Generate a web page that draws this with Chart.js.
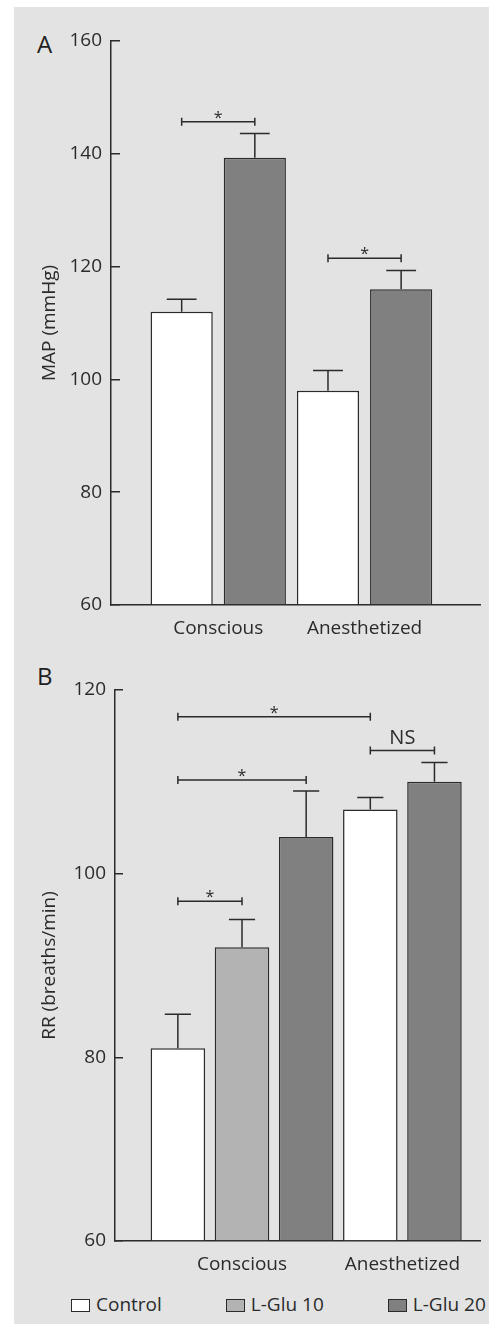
<!DOCTYPE html>
<html>
<head>
<meta charset="utf-8">
<script src="https://cdn.jsdelivr.net/npm/chart.js@4.4.0/dist/chart.umd.min.js"></script>
<style>
  html, body { margin: 0; padding: 0; background: #fff; overflow: hidden; }
  body { width: 489px; height: 1325px; position: relative; font-family: "Open Sans", sans-serif; }
  #panel { position: absolute; left: 14px; top: 7px; width: 475px; height: 1317px; background: #e3e3e3; overflow: hidden; }
  .box { position: absolute; left: 14px; width: 475px; }
  #boxA { top: 0; height: 650px; }
  #boxB { top: 650px; height: 636px; }
  .tag { position: absolute; left: 37px; font-size: 24px; color: #1e1e1e; line-height: 1; }
  #legend { position: absolute; left: 71px; top: 1292px; display: flex; gap: 64px; white-space: nowrap;
            font-size: 19px; color: #2b2b2b; line-height: 24px; }
  #legend span.sw { display: inline-block; width: 17px; height: 11px; border: 1.2px solid #2b2b2b;
                    margin-right: 6px; vertical-align: -1px; }
</style>
</head>
<body>
<div id="panel"></div>
<div class="tag" style="top:32px">A</div>
<div class="tag" style="top:664px">B</div>
<div class="box" id="boxA"><canvas id="chartA"></canvas></div>
<div class="box" id="boxB"><canvas id="chartB"></canvas></div>
<div id="legend"></div>
<script>
// ---- data ----
const categories = ['Conscious', 'Anesthetized'];
const seriesNames = ['Control', 'L-Glu 10', 'L-Glu 20'];
const seriesColors = ['#ffffff', '#b3b3b3', '#808080'];

// A: mean arterial pressure (mmHg), mean and upper SEM per category
const mapControl = [112, 98];
const mapControlSem = [2.2, 3.6];
const mapGlu10 = [null, null];
const mapGlu10Sem = [null, null];
const mapGlu20 = [139.3, 116];
const mapGlu20Sem = [4.3, 3.3];

// B: respiratory rate (breaths/min)
const rrControl = [81, 107];
const rrControlSem = [3.7, 1.3];
const rrGlu10 = [92, null];
const rrGlu10Sem = [3.0, null];
const rrGlu20 = [104, 110];
const rrGlu20Sem = [5.0, 2.1];

const mapTicks = [60, 80, 100, 120, 140, 160];
const rrTicks = [60, 80, 100, 120];

// significance brackets: bar index from/to, height in axis units, label
const mapBrackets = [
    { from: 0, to: 1, y: 145.7, label: '*' },
    { from: 2, to: 3, y: 121.5, label: '*' }
];
const rrBrackets = [
    { from: 0, to: 3, y: 117.1, label: '*' },
    { from: 3, to: 4, y: 113.4, label: 'NS' },
    { from: 0, to: 2, y: 110.2, label: '*' },
    { from: 0, to: 1, y: 97, label: '*' }
];

const INK = '#2b2b2b';
const FONT = "'Open Sans', sans-serif";

/**
 * Bars sit side by side in category order, empty values skipped
 */
function layoutBars(seriesValues) {
    let pos = 0;
    const positions = seriesValues.map(() => []);
    const groupCenters = [];
    categories.forEach((cat, ci) => {
        const first = pos;
        seriesValues.forEach((vals, si) => {
            if (vals[ci] !== null) {
                positions[si][ci] = pos;
                pos++;
            }
        });
        groupCenters.push((first + pos - 1) / 2);
    });
    return { positions, groupCenters };
}

const errorBarPlugin = {
    id: 'errorBars',
    afterDatasetsDraw(chart) {
        const ctx = chart.ctx;
        const yScale = chart.scales.y;
        ctx.save();
        ctx.strokeStyle = INK;
        ctx.lineWidth = 1.5;
        chart.data.datasets.forEach((ds, di) => {
            const meta = chart.getDatasetMeta(di);
            meta.data.forEach((bar, i) => {
                const pt = ds.data[i];
                const top = yScale.getPixelForValue(pt.y + pt.sem);
                const half = bar.width * 0.24;
                ctx.beginPath();
                ctx.moveTo(bar.x, bar.y);
                ctx.lineTo(bar.x, top);
                ctx.moveTo(bar.x - half, top);
                ctx.lineTo(bar.x + half, top);
                ctx.stroke();
            });
        });
        ctx.restore();
    }
};

const bracketPlugin = {
    id: 'brackets',
    afterDatasetsDraw(chart, args, opts) {
        const ctx = chart.ctx;
        const xScale = chart.scales.x;
        const yScale = chart.scales.y;
        ctx.save();
        ctx.strokeStyle = INK;
        ctx.fillStyle = INK;
        ctx.lineWidth = 1.5;
        ctx.textAlign = 'center';
        ctx.textBaseline = 'alphabetic';
        opts.items.forEach(b => {
            const x1 = xScale.getPixelForValue(b.from);
            const x2 = xScale.getPixelForValue(b.to);
            const y = yScale.getPixelForValue(b.y);
            ctx.beginPath();
            ctx.moveTo(x1, y); ctx.lineTo(x2, y);
            ctx.moveTo(x1, y - 4); ctx.lineTo(x1, y + 4);
            ctx.moveTo(x2, y - 4); ctx.lineTo(x2, y + 4);
            ctx.stroke();
            if (b.label === '*') {
                ctx.font = `16px ${FONT}`;
                ctx.fillText(b.label, (x1 + x2) / 2, y + 1);
            } else {
                ctx.font = `20px ${FONT}`;
                ctx.fillText(b.label, (x1 + x2) / 2, y - 7);
            }
        });
        ctx.restore();
    }
};

function drawPanel(canvasId, seriesValues, seriesSem, yTicks, yTitle, brackets, frame) {
    const { positions, groupCenters } = layoutBars(seriesValues);
    const datasets = [];
    seriesValues.forEach((vals, si) => {
        const pts = [];
        vals.forEach((v, ci) => {
            if (v !== null) pts.push({ x: positions[si][ci], y: v, sem: seriesSem[si][ci] });
        });
        if (!pts.length) return;
        datasets.push({
            label: seriesNames[si],
            data: pts,
            backgroundColor: seriesColors[si],
            borderColor: INK,
            borderWidth: 1.5,
            grouped: false,
            base: yTicks[0],
            barPercentage: 0.85,
            categoryPercentage: 1
        });
    });

    new Chart(document.getElementById(canvasId), {
        type: 'bar',
        data: { datasets },
        plugins: [errorBarPlugin, bracketPlugin],
        options: {
            responsive: true,
            maintainAspectRatio: false,
            animation: false,
            layout: { padding: { top: frame.top, right: 9, left: 0, bottom: 0 } },
            plugins: {
                legend: { display: false },
                tooltip: { enabled: false },
                brackets: { items: brackets }
            },
            scales: {
                x: {
                    type: 'linear',
                    offset: false,
                    min: frame.xMin,
                    max: frame.xMax,
                    afterBuildTicks: (scale) => { scale.ticks = groupCenters.map(v => ({ value: v })); },
                    afterFit: (scale) => { scale.height = 45; },
                    ticks: {
                        callback: (v, i) => categories[i],
                        color: INK,
                        font: { family: FONT, size: 19 },
                        padding: 4,
                        maxRotation: 0
                    },
                    grid: { display: false },
                    border: { display: true, color: INK, width: 1.5 }
                },
                y: {
                    min: yTicks[0],
                    max: yTicks[yTicks.length - 1],
                    afterBuildTicks: (scale) => { scale.ticks = yTicks.map(v => ({ value: v })); },
                    afterFit: (scale) => { scale.width = frame.yWidth; },
                    ticks: {
                        color: INK,
                        font: { family: FONT, size: 19 },
                        padding: 9 + frame.tick
                    },
                    grid: {
                        drawOnChartArea: false,
                        drawTicks: true,
                        tickLength: -frame.tick,
                        color: INK,
                        lineWidth: 1.5
                    },
                    border: { display: true, color: INK, width: 1.5 },
                    title: {
                        display: true,
                        text: yTitle,
                        color: INK,
                        font: { family: FONT, size: 19 },
                        padding: { top: 24, bottom: 0 }
                    }
                }
            }
        }
    });
}

drawPanel('chartA',
    [mapControl, mapGlu10, mapGlu20],
    [mapControlSem, mapGlu10Sem, mapGlu20Sem],
    mapTicks, 'MAP (mmHg)', mapBrackets,
    { top: 41, yWidth: 97, xMin: -0.966, xMax: 4.078, tick: 9 });

drawPanel('chartB',
    [rrControl, rrGlu10, rrGlu20],
    [rrControlSem, rrGlu10Sem, rrGlu20Sem],
    rrTicks, 'RR (breaths/min)', rrBrackets,
    { top: 40, yWidth: 101, xMin: -0.98, xMax: 4.71, tick: 8 });

// legend shared by both panels
const legendEl = document.getElementById('legend');
seriesNames.forEach((name, i) => {
    const item = document.createElement('div');
    item.innerHTML = `<span class="sw" style="background:${seriesColors[i]}"></span>${name}`;
    legendEl.appendChild(item);
});
</script>
</body>
</html>
